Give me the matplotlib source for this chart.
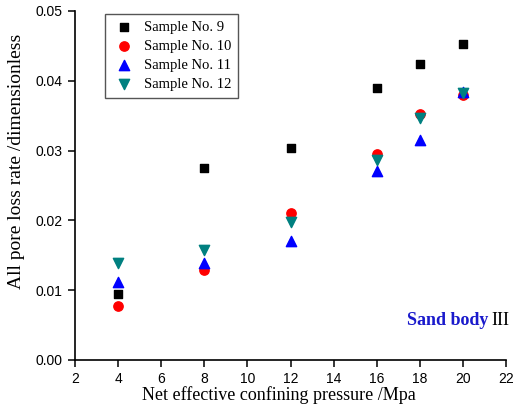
import matplotlib
matplotlib.use("Agg")
import matplotlib.pyplot as plt

pressure = [4, 8, 12, 16, 18, 20]
sample9 = [0.0095, 0.0275, 0.0303, 0.0389, 0.0424, 0.0452]
sample10 = [0.0078, 0.0129, 0.0210, 0.0295, 0.0352, 0.0379]
sample11 = [0.0111, 0.0139, 0.0171, 0.0271, 0.0315, 0.0384]
sample12 = [0.0139, 0.0158, 0.0197, 0.0286, 0.0346, 0.0383]
labels = ["Sample No. 9", "Sample No. 10", "Sample No. 11", "Sample No. 12"]

fig = plt.figure(figsize=(5.19, 4.04), dpi=100)
ax = fig.add_axes([0.1445, 0.109, 0.8305, 0.864])

serif = "Liberation Serif"
sans = "Liberation Sans"

ax.scatter(pressure, sample9, marker="s", s=40, color="black", label=labels[0], zorder=3)
ax.scatter(pressure, sample10, marker="o", s=45, color="#ff0000", label=labels[1], zorder=3)
ax.scatter(pressure, sample11, marker="^", s=55, color="#0000ff", label=labels[2], zorder=3)
ax.scatter(pressure, sample12, marker="v", s=55, color="#008080", label=labels[3], zorder=4)

ax.set_xlim(2, 22)
ax.set_ylim(0, 0.05)
ax.set_xticks(range(2, 23, 2))
ax.set_yticks([0.0, 0.01, 0.02, 0.03, 0.04, 0.05])
ax.set_yticklabels(["0.00", "0.01", "0.02", "0.03", "0.04", "0.05"])
for lab in ax.get_xticklabels() + ax.get_yticklabels():
    lab.set_fontfamily(sans)
    lab.set_fontsize(10)
ax.tick_params(direction="out", length=5, width=1.1, pad=4)
for s in ["top", "right"]:
    ax.spines[s].set_visible(False)
for s in ["left", "bottom"]:
    ax.spines[s].set_linewidth(1.2)

ax.set_xlabel("Net effective confining pressure /Mpa", fontfamily=serif, fontsize=13)
ax.set_ylabel("All pore loss rate /dimensionless", fontfamily=serif, fontsize=14)
ax.xaxis.set_label_coords(0.472, -0.075)
ax.yaxis.set_label_coords(-0.117, 0.57)

leg = ax.legend(loc="upper left", bbox_to_anchor=(0.07, 0.991), prop={"family": serif, "size": 10.5},
                frameon=True, fancybox=False, edgecolor="#555555", framealpha=1,
                borderaxespad=0, handlelength=1.7, handletextpad=0.5,
                borderpad=0.45, labelspacing=0.4, scatterpoints=1)
leg.get_frame().set_linewidth(1.0)

ax.text(0.959, 0.10, "Sand body", transform=ax.transAxes, ha="right", va="baseline",
        fontfamily=serif, fontsize=13, fontweight="bold", color="#1a1acc")
ax.text(0.965, 0.10, "III", transform=ax.transAxes, ha="left", va="baseline",
        fontfamily=serif, fontsize=13, color="black")

fig.savefig("out.png", dpi=100)
